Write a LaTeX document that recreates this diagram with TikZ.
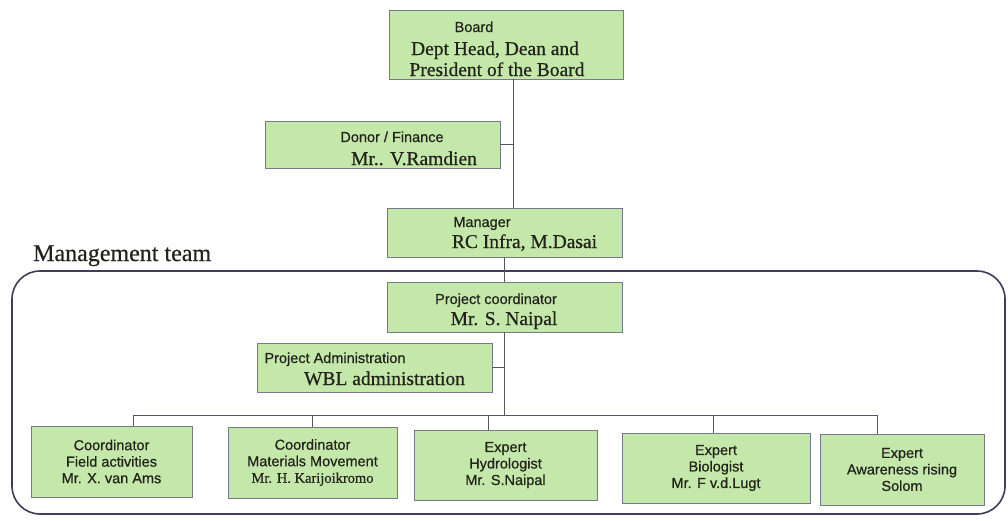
\documentclass[tikz,border=0pt]{standalone}
\usepackage{fontspec}
\setmainfont{Liberation Serif}
\newfontfamily\timesx{Liberation Serif}[FakeBold=0.6]
\newfontfamily\arialx{Liberation Sans}[FakeBold=0.6]
\definecolor{boxfill}{RGB}{196,232,170}
\definecolor{boxline}{RGB}{120,122,140}
\definecolor{wirec}{RGB}{85,85,100}
\definecolor{framec}{RGB}{60,62,90}
\definecolor{ink}{RGB}{35,35,28}
\tikzset{
  box/.style={draw=boxline, fill=boxfill, line width=0.9pt, inner sep=0pt, text=ink},
  small/.style={font=\arialx\fontsize{14.5}{16.5}\selectfont, text=ink, inner sep=0pt, anchor=base},
  big/.style={font=\timesx\fontsize{19.5}{21}\selectfont, text=ink, inner sep=0pt, anchor=base},
  bot/.style={box, align=center, font=\arialx\fontsize{14.5}{16.5}\selectfont},
  wire/.style={draw=wirec, line width=1pt},
  teambox/.style={draw=framec, line width=1.6pt, rounded corners=28pt, inner sep=0pt},
}
\begin{document}
\begin{tikzpicture}[x=1pt,y=-1pt]
\useasboundingbox (0,0) rectangle (1008,520);
\fill[white] (0,0) rectangle (1008,520);

% management team frame
\node[teambox, minimum width=993pt, minimum height=243pt] (teamframe) at (508.5,392.5) {};
\node[font=\timesx\fontsize{24}{26}\selectfont, anchor=base west, inner sep=0pt, text=ink] (teamlabel) at (33,261) {Management team};

% boxes
\node[box, minimum width=234pt, minimum height=69pt] (board) at (506,44.5) {};
\node[box, minimum width=235pt, minimum height=47pt] (donor) at (382.5,144.5) {};
\node[box, minimum width=235pt, minimum height=49pt] (mgr) at (504.5,232.5) {};
\node[box, minimum width=235pt, minimum height=50pt] (pc) at (504.5,307) {};
\node[box, minimum width=235pt, minimum height=49pt] (admin) at (374.5,367.5) {};

\node[bot, minimum width=161pt, minimum height=71pt] (c1) at (111.5,461.5) {Coordinator\\Field activities\\Mr. X. van Ams};
\node[bot, minimum width=169pt, minimum height=71pt] (c2) at (312.5,462.5) {Coordinator\\Materials Movement\\{\timesx Mr. H. Karijoikromo}};
\node[bot, minimum width=183pt, minimum height=70pt] (c3) at (505.5,465) {Expert\\Hydrologist\\Mr. S.Naipal};
\node[bot, minimum width=188pt, minimum height=70pt] (c4) at (716,468) {Expert\\Biologist\\Mr. F v.d.Lugt};
\node[bot, minimum width=164pt, minimum height=71pt] (c5) at (902,469.5) {Expert\\Awareness rising\\Solom};

% texts in upper boxes
\node[small] (boardt1) at (474,32) {Board};
\node[big] (boardt2) at (495,55) {Dept Head, Dean and};
\node[big] (boardt3) at (497,76) {President of the Board};
\node[small] (donort1) at (392,142) {Donor / Finance};
\node[big] (donort2) at (414,165) {Mr.. V.Ramdien};
\node[small] (mgrt1) at (482,227) {Manager};
\node[big] (mgrt2) at (524.5,248) {RC Infra, M.Dasai};
\node[small] (pct1) at (496,304) {Project coordinator};
\node[big] (pct2) at (504,325) {Mr. S. Naipal};
\node[small] (admint1) at (335,363) {Project Administration};
\node[big] (admint2) at (384.5,385) {WBL administration};

% connectors
\coordinate (spine) at ([xshift=7pt]board.south);
\draw[wire] (spine) -- (spine |- mgr.north);
\draw[wire] (donor.east) -- (donor.east -| spine);
\draw[wire] (mgr.south) -- (pc.north);
\coordinate (bus) at ([yshift=-83pt]pc.south);
\draw[wire] (pc.south) -- (bus);
\draw[wire] (admin.east) -- (admin.east -| pc.south);
\coordinate (d1) at ([xshift=21.5pt]c1.north);
\coordinate (d2) at (c2.north);
\coordinate (d3) at ([xshift=-17.5pt]c3.north);
\coordinate (d4) at ([xshift=-3pt]c4.north);
\coordinate (d5) at ([xshift=-25pt]c5.north);
\draw[wire] (d1 |- bus) -- (d5 |- bus);
\foreach \d in {d1,d2,d3,d4,d5} \draw[wire] (\d |- bus) -- (\d);
\end{tikzpicture}
\end{document}
